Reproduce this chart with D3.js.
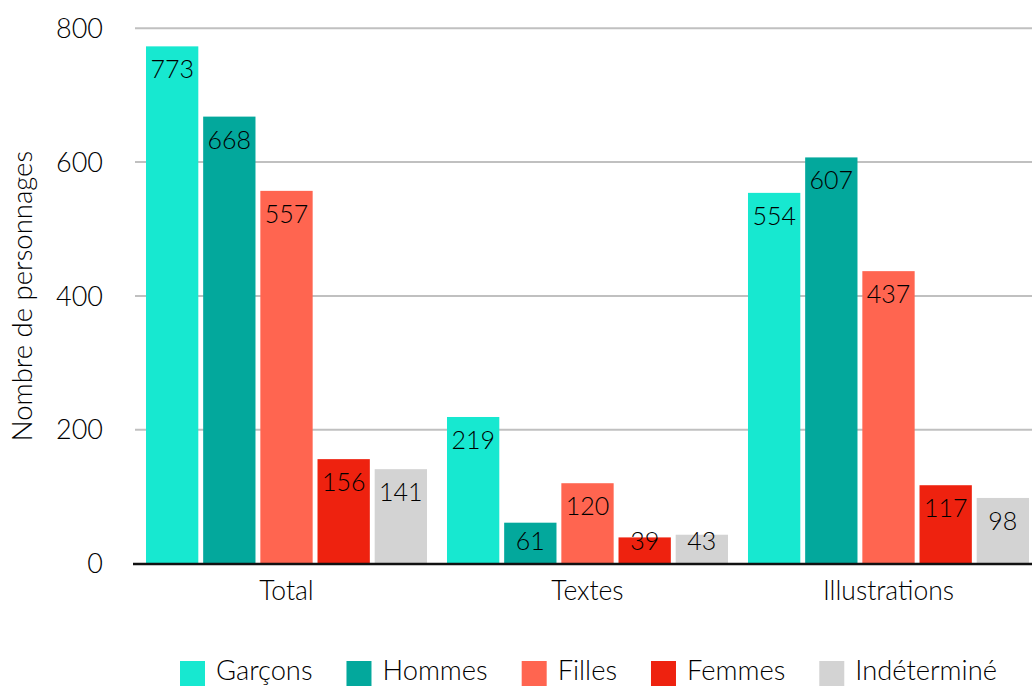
<!DOCTYPE html>
<html><head><meta charset="utf-8">
<script src="https://cdn.jsdelivr.net/npm/d3@7"></script>
<style>body{margin:0;background:#fff}svg{display:block}text{font-family:Lato,"Noto Sans",sans-serif;fill:#000;font-weight:300}</style>
</head><body><svg id="c" width="1032" height="686"></svg>
<script>
const categories = ["Total", "Textes", "Illustrations"];
const seriesNames = ["Garçons", "Hommes", "Filles", "Femmes", "Indéterminé"];
const garcons = [773, 219, 554];
const hommes = [668, 61, 607];
const filles = [557, 120, 437];
const femmes = [156, 39, 117];
const indetermine = [141, 43, 98];
const yTicks = [0, 200, 400, 600, 800];
const colors = ["#17E8D0", "#03A89C", "#FF6550", "#EE220F", "#D3D3D3"];
const yTitle = "Nombre de personnages";

const series = [garcons, hommes, filles, femmes, indetermine];
const svg = d3.select("#c");
const y = d3.scaleLinear().domain([0, 800]).range([563.5, 28.3]);
const x0 = d3.scaleBand().domain(categories).range([136, 1039]).paddingInner(0.0664).paddingOuter(0.0332);
const x1 = d3.scaleBand().domain(seriesNames).range([0, x0.bandwidth()]).paddingInner(0.085).paddingOuter(0);

svg.append("g").selectAll("line").data(yTicks.filter(d => d > 0)).join("line")
  .attr("x1", 135).attr("x2", 1032).attr("y1", d => y(d)).attr("y2", d => y(d))
  .attr("stroke", "#c0c0c0").attr("stroke-width", 2);

svg.append("g").selectAll("text").data(yTicks).join("text")
  .attr("x", 103).attr("y", d => y(d)).attr("dy", "0.36em").attr("text-anchor", "end")
  .attr("font-size", 27).text(d => d);

const rows = [];
categories.forEach((c, i) => seriesNames.forEach((s, j) => rows.push({c, s, j, v: series[j][i]})));
const g = svg.append("g");
g.selectAll("rect").data(rows).join("rect")
  .attr("x", d => x0(d.c) + x1(d.s)).attr("width", x1.bandwidth())
  .attr("y", d => y(d.v)).attr("height", d => y(0) - y(d.v))
  .attr("fill", d => colors[d.j]);
g.selectAll("text").data(rows).join("text")
  .attr("x", d => x0(d.c) + x1(d.s) + x1.bandwidth() / 2)
  .attr("y", d => Math.min(y(d.v) + 32, y(0) - 14))
  .attr("text-anchor", "middle").attr("font-size", 25).text(d => d.v);

svg.append("line").attr("x1", 133).attr("x2", 1032).attr("y1", y(0) + 0.5).attr("y2", y(0) + 0.5)
  .attr("stroke", "#111").attr("stroke-width", 2.5);

svg.append("g").selectAll("text").data(categories).join("text")
  .attr("x", d => x0(d) + x0.bandwidth() / 2).attr("y", 600).attr("text-anchor", "middle")
  .attr("font-size", 26.5).text(d => d);

svg.append("text").attr("transform", "translate(32,296) rotate(-90)").attr("text-anchor", "middle")
  .attr("font-size", 27.5).text(yTitle);

const lg = svg.append("g");
let lx = 180;
seriesNames.forEach((s, j) => {
  lg.append("rect").attr("x", lx).attr("y", 661).attr("width", 25).attr("height", 25).attr("fill", colors[j]);
  const t = lg.append("text").attr("x", lx + 36).attr("y", 680).attr("font-size", 27.3).text(s);
  lx += 36 + t.node().getComputedTextLength() + 34;
});
</script></body></html>
